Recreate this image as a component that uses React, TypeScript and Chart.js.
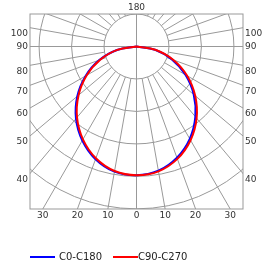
import React, { useEffect, useRef } from "react";
import { Chart, registerables } from "chart.js";

Chart.register(...registerables);

// Polar angles from nadir (degrees) and luminous intensities (relative units)
const angles = [0, 10, 20, 30, 40, 50, 60, 70, 80, 90];
const c0 = [198, 194, 182, 164, 141, 115, 87, 58, 29, 0];
const c180 = [198, 195.5, 184.5, 167, 145, 119, 90.5, 61, 30.5, 0];
const c90 = [198, 195, 184, 166.5, 144, 118, 90, 60.5, 30.5, 0];
const c270 = [198, 194.5, 183, 165, 142.5, 116.5, 88.5, 59.5, 30, 0];

const seriesNames = ["C0-C180", "C90-C270"];
const seriesColors = ["#0000ff", "#ff0000"];

// Grid
const gridRadii = [50, 100, 150, 200, 250];
const radialAngles = [0, 10, 20, 30, 40, 50, 60, 70, 80, 90, 100, 110, 120, 130, 140, 150, 160, 170, 180];
const sideLabelAngles = [40, 50, 60, 70, 80, 90, 100];
const bottomLabelAngles = [0, 10, 20, 30];
const topLabelAngles = [180];

function toXY(left: number[], right: number[]) {
  const pts: { x: number; y: number }[] = [];
  for (let i = angles.length - 1; i >= 0; i--) {
    const a = (angles[i] * Math.PI) / 180;
    pts.push({ x: -left[i] * Math.sin(a), y: -left[i] * Math.cos(a) });
  }
  for (let i = 1; i < angles.length; i++) {
    const a = (angles[i] * Math.PI) / 180;
    pts.push({ x: right[i] * Math.sin(a), y: -right[i] * Math.cos(a) });
  }
  return pts;
}

export default function App() {
  const ref = useRef<HTMLCanvasElement>(null);

  useEffect(() => {
    const canvas = ref.current!;

    const polarPlugin = {
      id: "polarGrid",
      beforeDatasetsDraw(chart: any) {
        const { ctx, chartArea: ca } = chart;
        const x = chart.scales.x;
        const y = chart.scales.y;
        const px = (vx: number, vy: number) => [x.getPixelForValue(vx), y.getPixelForValue(vy)];
        const [cx, cy] = px(0, 0);
        const unit = x.getPixelForValue(1) - cx;
        ctx.save();
        ctx.beginPath();
        ctx.rect(ca.left, ca.top, ca.right - ca.left, ca.bottom - ca.top);
        ctx.clip();
        ctx.strokeStyle = "#999999";
        ctx.lineWidth = 1;
        for (const r of gridRadii) {
          ctx.beginPath();
          ctx.arc(cx, cy, r * unit, 0, Math.PI * 2);
          ctx.stroke();
        }
        for (const a of radialAngles) {
          const t = (a * Math.PI) / 180;
          const r0 = a % 90 === 0 ? 0 : gridRadii[0];
          for (const s of [1, -1]) {
            const [x0, y0] = px(s * r0 * Math.sin(t), -r0 * Math.cos(t));
            const [x1, y1] = px(s * 1000 * Math.sin(t), -1000 * Math.cos(t));
            ctx.beginPath();
            ctx.moveTo(x0, y0);
            ctx.lineTo(x1, y1);
            ctx.stroke();
          }
        }
        ctx.restore();
        ctx.save();
        ctx.strokeStyle = "#999999";
        ctx.lineWidth = 1;
        ctx.strokeRect(ca.left, ca.top, ca.right - ca.left, ca.bottom - ca.top);
        ctx.restore();
      },
      afterDraw(chart: any) {
        const { ctx, chartArea: ca } = chart;
        const x = chart.scales.x;
        const y = chart.scales.y;
        const cx = x.getPixelForValue(0);
        ctx.save();
        ctx.fillStyle = "#333333";
        ctx.font = '9px "DejaVu Sans"';
        ctx.textBaseline = "middle";
        for (const a of sideLabelAngles) {
          const t = (a * Math.PI) / 180;
          const yv = (-x.max * Math.cos(t)) / Math.sin(t);
          const yp = y.getPixelForValue(yv) + (a === 90 ? 0 : 6);
          ctx.textAlign = "right";
          ctx.fillText(String(a), ca.left - 2, yp);
          ctx.textAlign = "left";
          ctx.fillText(String(a), ca.right + 2, yp);
        }
        ctx.textAlign = "center";
        for (const a of bottomLabelAngles) {
          const t = (a * Math.PI) / 180;
          const xv = -y.min * Math.tan(t);
          ctx.fillText(String(a), x.getPixelForValue(xv), ca.bottom + 7);
          if (a !== 0) ctx.fillText(String(a), x.getPixelForValue(-xv), ca.bottom + 7);
        }
        for (const a of topLabelAngles) {
          ctx.fillText(String(a), cx, ca.top - 6);
        }
        // legend
        ctx.font = '10px "DejaVu Sans"';
        ctx.textAlign = "left";
        let lx = 30;
        const ly = 257;
        chart.data.datasets.forEach((ds: any, i: number) => {
          ctx.strokeStyle = ds.borderColor;
          ctx.lineWidth = 2;
          ctx.beginPath();
          ctx.moveTo(lx, ly);
          ctx.lineTo(lx + 25, ly);
          ctx.stroke();
          const tx = lx + 25 + (i === 0 ? 4 : 0);
          ctx.fillStyle = "#222222";
          ctx.fillText(ds.label, tx, ly);
          lx = tx + ctx.measureText(ds.label).width + 11;
        });
        ctx.restore();
      },
    };

    const chart = new Chart(canvas, {
      type: "scatter",
      data: {
        datasets: [
          {
            label: seriesNames[0],
            data: toXY(c180, c0),
            showLine: true,
            borderColor: seriesColors[0],
            backgroundColor: seriesColors[0],
            borderWidth: 2,
            pointRadius: 0,
            tension: 0.4,
            order: 1,
          },
          {
            label: seriesNames[1],
            data: toXY(c270, c90),
            showLine: true,
            borderColor: seriesColors[1],
            backgroundColor: seriesColors[1],
            borderWidth: 2,
            pointRadius: 0,
            tension: 0.4,
            order: 0,
          },
        ],
      },
      options: {
        responsive: false,
        animation: false,
        devicePixelRatio: 1,
        layout: { padding: { left: 30, top: 14, right: 32, bottom: 56 } },
        scales: {
          x: { type: "linear", min: -164, max: 164, display: false },
          y: { type: "linear", min: -250, max: 50, display: false },
        },
        plugins: {
          legend: { display: false },
          tooltip: { enabled: false },
        },
      },
      plugins: [polarPlugin],
    });
    return () => chart.destroy();
  }, []);

  return (
    <div style={{ position: "absolute", left: 0, top: 0, width: 275, height: 265, background: "#fff" }}>
      <canvas ref={ref} width={275} height={265} />
    </div>
  );
}
